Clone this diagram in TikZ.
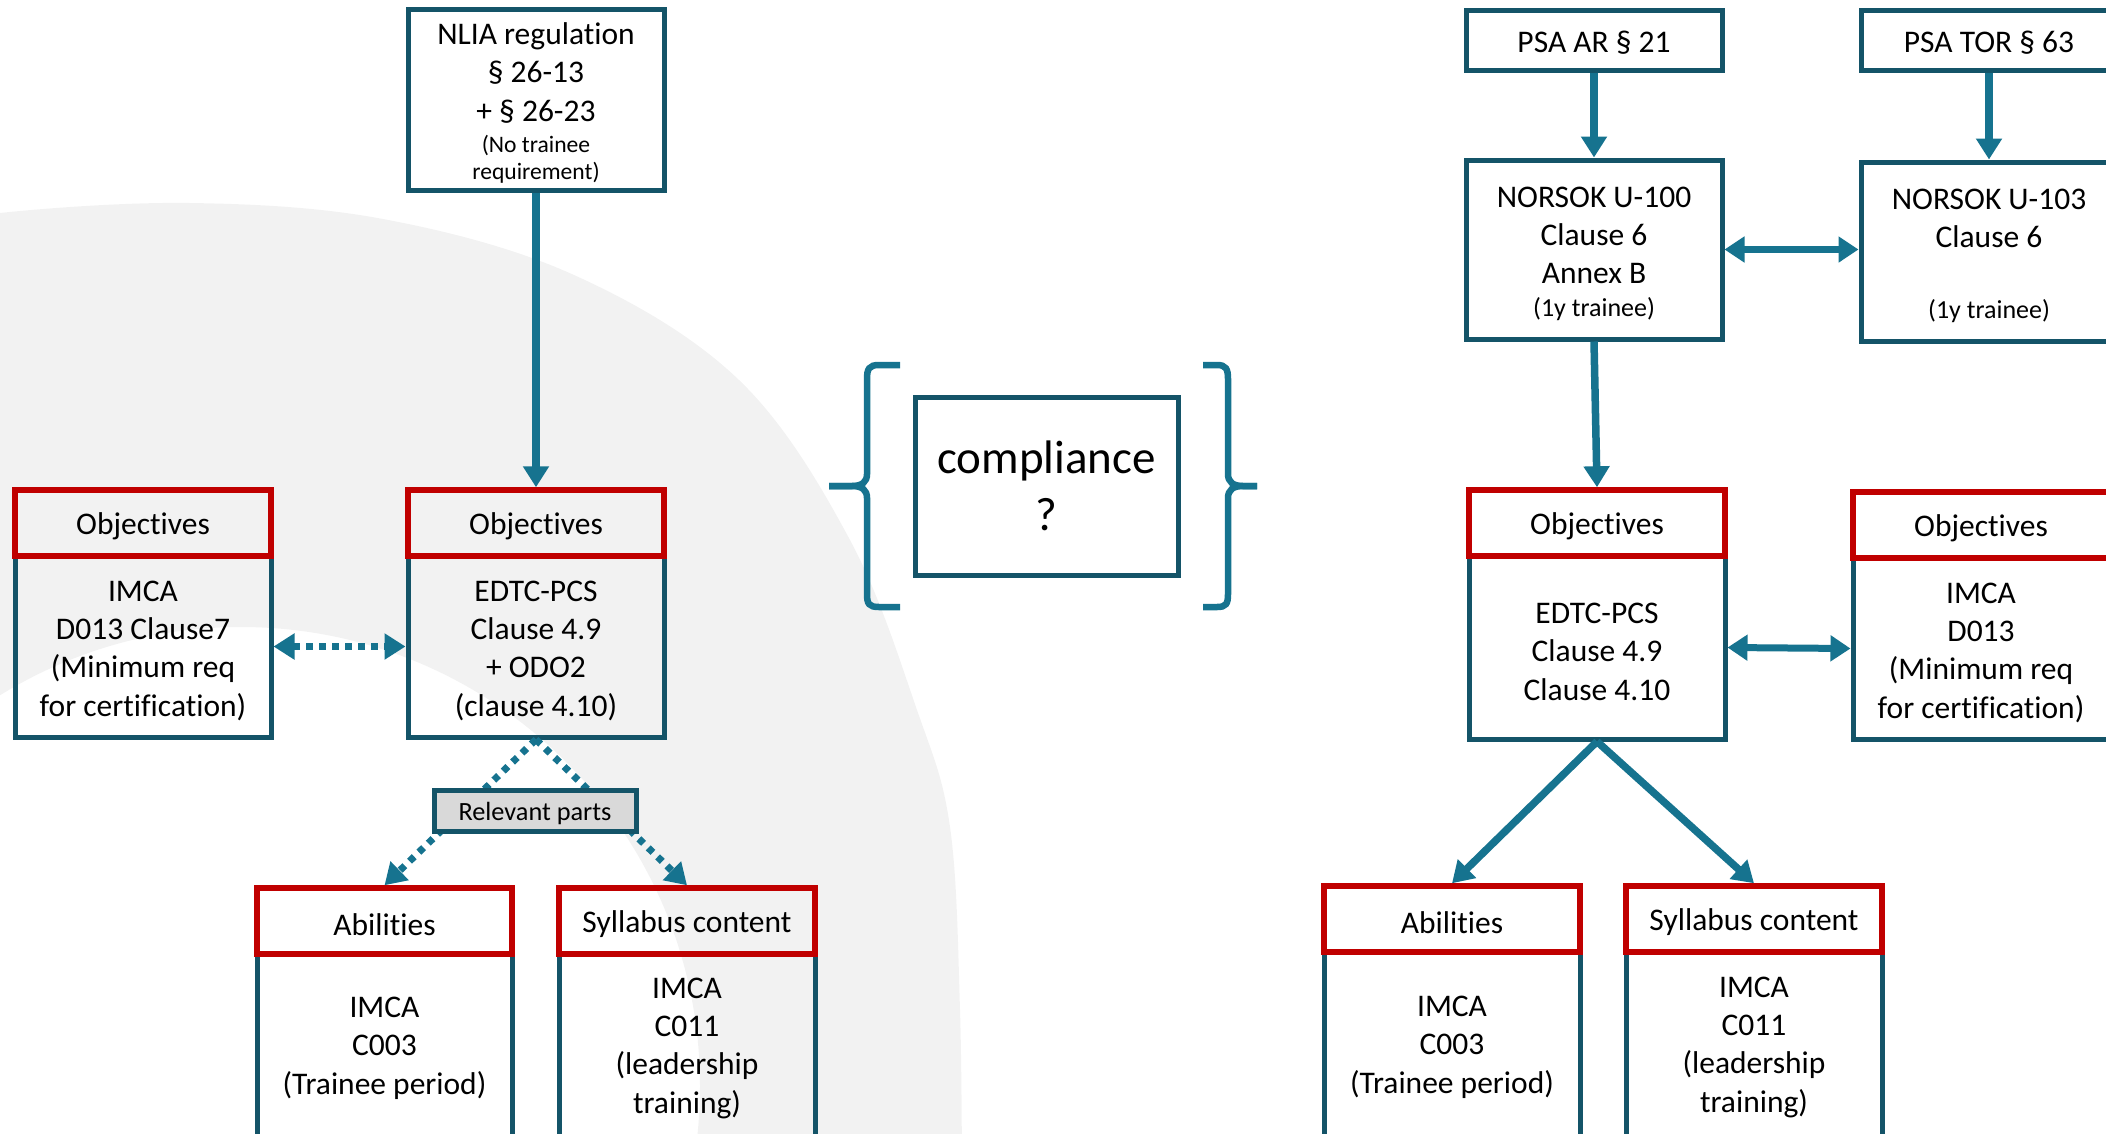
\documentclass[tikz,border=0pt]{standalone}
\usepackage{fontspec}
\setmainfont{Carlito}[Ligatures=NoCommon]
\usetikzlibrary{arrows.meta}
\definecolor{boxteal}{RGB}{20,84,104}
\definecolor{arrteal}{RGB}{22,115,143}
\definecolor{hdrred}{RGB}{192,0,0}
\definecolor{relgray}{RGB}{217,217,217}
\definecolor{ringgray}{RGB}{242,242,242}
\newcommand{\strutA}{\rule{0pt}{29pt}}
\newcommand{\strutB}{\rule{0pt}{23pt}}
\newcommand{\strutC}{\rule{0pt}{24.4pt}}
\newcommand{\strutD}{\rule{0pt}{27.5pt}}
\begin{document}
\begin{tikzpicture}[x=1pt,y=-1pt,
  txt/.style={align=center, inner sep=0pt, font=\fontsize{31.5}{38.3}\selectfont},
  bodybox/.style={txt, draw=boxteal, line width=5pt},
  hdrbox/.style={txt, draw=hdrred, line width=5.5pt, minimum height=66pt},
  relbox/.style={draw=boxteal, line width=5pt, fill=relgray, inner sep=0pt, font=\fontsize{26.3}{30}\selectfont},
  arr/.style={draw=arrteal, line width=7.5pt, -{Triangle[length=21pt,width=25pt]}},
  dblarr/.style={draw=arrteal, line width=7pt, {Triangle[length=20pt,width=25pt]}-{Triangle[length=20pt,width=25pt]}},
  dotarr/.style={draw=arrteal, line width=7pt, dash pattern=on 6.5pt off 6.5pt, -{Triangle[length=21pt,width=25pt]}},
  dotdbl/.style={draw=arrteal, line width=7pt, dash pattern=on 6.5pt off 6.5pt, {Triangle[length=21pt,width=25pt]}-{Triangle[length=21pt,width=25pt]}},
  bracestyle/.style={draw=arrteal, line width=6.5pt}
]
\useasboundingbox (0,0) rectangle (2106,1133);
\clip (0,0) rectangle (2106,1133);

% background ring
\fill[ringgray, even odd rule]
  plot[smooth, tension=0.6] coordinates {(-60,230) (0,213) (190,203) (383,219) (574,275) (739,380) (850,540) (917,710) (950,827) (960,1010) (962,1200)}
  -- (-60,1200) -- cycle
  (241,1086) circle[radius=459];

% ---------- left part ----------
\node[bodybox, minimum width=256pt, minimum height=181pt] (nlia) at (536,99.5)
  {\strutA NLIA regulation\\ § 26-13\\ + § 26-23\\[-6.5pt] {\fontsize{23.6}{28}\selectfont (No trainee}\\[-11.5pt] {\fontsize{23.6}{28}\selectfont requirement)}};

\node[bodybox, minimum width=256pt, minimum height=181pt] (objLb) at (143,646.5)
  {\strutA IMCA\\ D013 Clause7\\ (Minimum req\\ for certification)};
\node[hdrbox, minimum width=256pt] (objLh) at (143,523) {\strutA Objectives};

\node[bodybox, minimum width=256pt, minimum height=181pt] (objCb) at (536,646.5)
  {\strutA EDTC-PCS\\ Clause 4.9\\ + ODO2\\ (clause 4.10)};
\node[hdrbox, minimum width=256pt] (objCh) at (536,523) {\strutA Objectives};

\node[bodybox, minimum width=255pt, minimum height=186pt] (abLb) at (384.5,1047)
  {\strutB IMCA\\ C003\\ (Trainee period)};
\node[hdrbox, minimum width=255pt] (abLh) at (384.5,921) {\strutA Abilities};

\node[bodybox, minimum width=256pt, minimum height=186pt] (syLb) at (687,1047)
  {\strutB IMCA\\ C011\\ (leadership\\ training)};
\node[hdrbox, minimum width=256pt] (syLh) at (687,921) {\strutA Syllabus content};

\draw[arr] (nlia.south) -- (objCh.north);
\draw[dotdbl] (objLb.east) -- (objCb.west);
\draw[dotarr] (objCb.south) -- (abLh.north);
\draw[dotarr] (objCb.south) -- (syLh.north);

\node[relbox, minimum width=202pt, minimum height=41pt] (rel) at (535,810.5) {\strutC Relevant parts};

% ---------- middle ----------
\node[bodybox, minimum width=263pt, minimum height=178pt, font=\fontsize{47}{57}\selectfont] (comp) at (1046.5,486)
  {compliance\\ ?};
\draw[bracestyle] (900,365) -- (879,365) .. controls (869,365) and (867,369) .. (867,379)
  -- (867,474) .. controls (867,482) and (862,486) .. (852,486) -- (829,486);
\draw[bracestyle] (829,486) -- (852,486) .. controls (862,486) and (867,490) .. (867,498)
  -- (867,594) .. controls (867,604) and (869,607) .. (879,607) -- (900,607);
\draw[bracestyle] (1203,365) -- (1217,365) .. controls (1226,365) and (1228,369) .. (1228,379)
  -- (1228,474) .. controls (1228,482) and (1233,486) .. (1243,486) -- (1257,486);
\draw[bracestyle] (1257,486) -- (1243,486) .. controls (1233,486) and (1228,490) .. (1228,498)
  -- (1228,594) .. controls (1228,604) and (1226,607) .. (1217,607) -- (1203,607);

% ---------- right part ----------
\node[bodybox, minimum width=256pt, minimum height=60pt] (psaAR) at (1594,40) {\strutD PSA AR § 21};
\node[bodybox, minimum width=256pt, minimum height=60pt] (psaTOR) at (1989,40) {\strutD PSA TOR § 63};

\node[bodybox, minimum width=256pt, minimum height=179pt] (u100) at (1594,249.5)
  {\strutA NORSOK U-100\\ Clause 6\\ Annex B\\[-5.5pt] {\fontsize{26}{30}\selectfont (1y trainee)}};
\node[bodybox, minimum width=256pt, minimum height=179pt] (u103) at (1989,251.5)
  {\strutA NORSOK U-103\\ Clause 6\\ \\[-5.5pt] {\fontsize{26}{30}\selectfont (1y trainee)}};

\node[bodybox, minimum width=256pt, minimum height=183pt] (objRb) at (1597,647.5)
  {\strutA EDTC-PCS\\ Clause 4.9\\ Clause 4.10};
\node[hdrbox, minimum width=256pt] (objRh) at (1597,523) {\strutA Objectives};

\node[bodybox, minimum width=256pt, minimum height=181pt] (objFRb) at (1981,648.5)
  {\strutA IMCA\\ D013\\ (Minimum req\\ for certification)};
\node[hdrbox, minimum width=256pt] (objFRh) at (1981,525) {\strutA Objectives};

\node[bodybox, minimum width=256pt, minimum height=188pt] (abRb) at (1452,1046)
  {\strutB IMCA\\ C003\\ (Trainee period)};
\node[hdrbox, minimum width=256pt] (abRh) at (1452,919) {\strutA Abilities};

\node[bodybox, minimum width=256pt, minimum height=188pt] (syRb) at (1754,1046)
  {\strutB IMCA\\ C011\\ (leadership\\ training)};
\node[hdrbox, minimum width=256pt] (syRh) at (1754,919) {\strutA Syllabus content};

\draw[arr] (psaAR.south) -- (u100.north);
\draw[arr] (psaTOR.south) -- (u103.north);
\draw[dblarr] (u100.east) -- (u100.east -| u103.west);
\draw[arr] (u100.south) -- (objRh.north);
\draw[dblarr] (objRb.east) -- (objFRb.west);
\draw[arr] (objRb.south) -- (abRh.north);
\draw[arr] (objRb.south) -- (syRh.north);
\end{tikzpicture}
\end{document}
